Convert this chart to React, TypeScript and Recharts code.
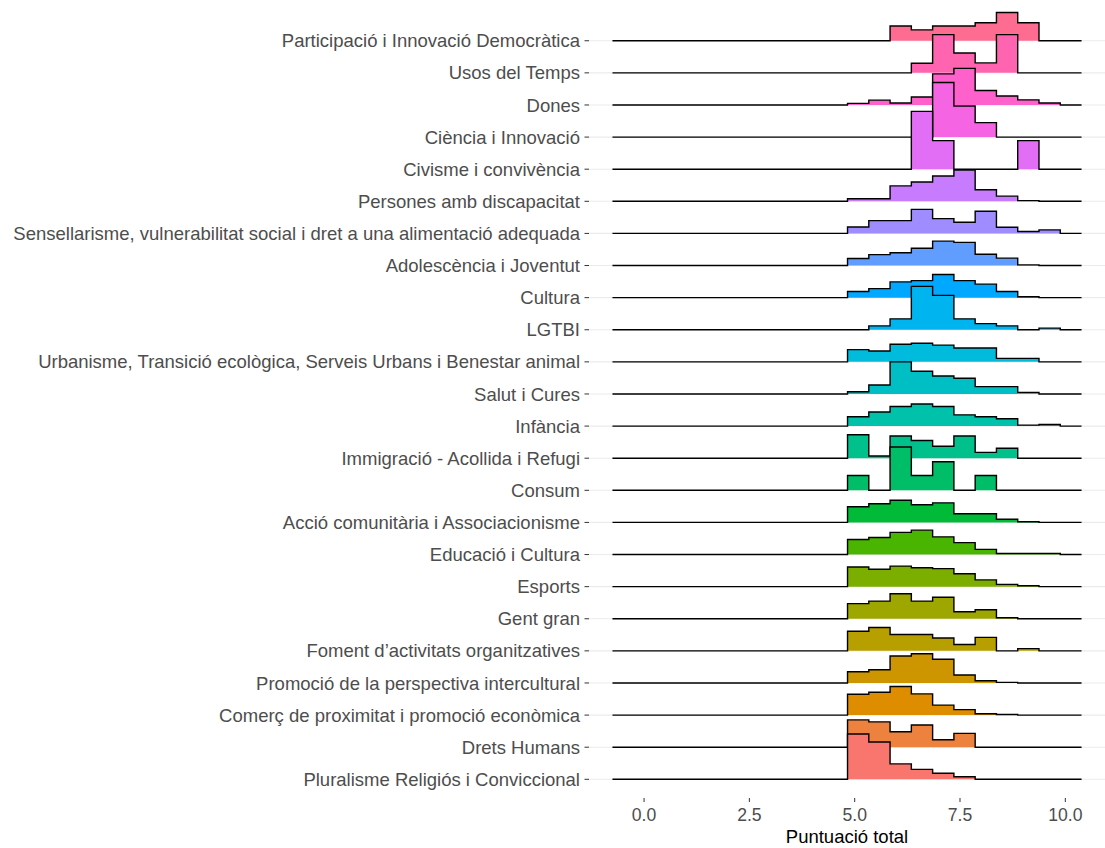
import React from 'react';
import { ComposedChart, Area, XAxis, YAxis, CartesianGrid, Label } from 'recharts';

// categories, top row first
const categories = [
  'Participació i Innovació Democràtica',
  'Usos del Temps',
  'Dones',
  'Ciència i Innovació',
  'Civisme i convivència',
  'Persones amb discapacitat',
  'Sensellarisme, vulnerabilitat social i dret a una alimentació adequada',
  'Adolescència i Joventut',
  'Cultura',
  'LGTBI',
  'Urbanisme, Transició ecològica, Serveis Urbans i Benestar animal',
  'Salut i Cures',
  'Infància',
  'Immigració - Acollida i Refugi',
  'Consum',
  'Acció comunitària i Associacionisme',
  'Educació i Cultura',
  'Esports',
  'Gent gran',
  "Foment d’activitats organitzatives",
  'Promoció de la perspectiva intercultural',
  'Comerç de proximitat i promoció econòmica',
  'Drets Humans',
  'Pluralisme Religiós i Conviccional',
];

// ridge line start and bin edges (Puntuació total)
const lineStart = -0.75;
const binEdges = [4.83, 5.335, 5.84, 6.345, 6.85, 7.355, 7.86, 8.365, 8.87, 9.375, 9.88, 10.385];
const xTicks = [0, 2.5, 5, 7.5, 10];

// bin heights per category (in ridge-row units), same order as categories
const participacio = [0, 0, 0.46, 0.34, 0.46, 0.46, 0.56, 0.88, 0.56, 0, 0];
const usosTemps = [0, 0, 0, 0.3, 1.19, 0.62, 0.31, 1.19, 0, 0, 0];
const dones = [0.05, 0.15, 0.06, 0.25, 0.97, 1.14, 0.45, 0.28, 0.16, 0.06, 0];
const ciencia = [0, 0, 0, 0, 1.7, 0.97, 0.45, 0, 0, 0, 0];
const civisme = [0, 0, 0, 1.8, 0.89, 0, 0, 0, 0.89, 0, 0];
const discapacitat = [0.08, 0.08, 0.48, 0.6, 0.79, 0.97, 0.36, 0.16, 0.02, 0, 0];
const sensellarisme = [0.2, 0.4, 0.4, 0.75, 0.46, 0.35, 0.69, 0.19, 0.06, 0.11, 0];
const adolescencia = [0.22, 0.34, 0.4, 0.54, 0.76, 0.72, 0.35, 0.23, 0.02, 0, 0];
const cultura = [0.19, 0.28, 0.49, 0.53, 0.72, 0.53, 0.42, 0.19, 0.03, 0, 0];
const lgtbi = [0, 0.12, 0.34, 1.35, 1.07, 0.34, 0.19, 0.12, 0, 0.05, 0];
const urbanisme = [0.38, 0.34, 0.55, 0.58, 0.52, 0.43, 0.43, 0.11, 0.11, 0, 0];
const salut = [0.07, 0.28, 1.0, 0.71, 0.56, 0.49, 0.23, 0.23, 0.05, 0, 0];
const infancia = [0.29, 0.44, 0.61, 0.69, 0.61, 0.35, 0.29, 0.23, 0.03, 0.05, 0];
const immigracio = [0.73, 0.07, 0.69, 0.55, 0.37, 0.69, 0.18, 0.31, 0, 0, 0];
const consum = [0.46, 0, 1.35, 0.46, 0.89, 0, 0.46, 0, 0, 0, 0];
const accio = [0.49, 0.58, 0.69, 0.55, 0.61, 0.27, 0.27, 0.1, 0.02, 0, 0];
const educacio = [0.47, 0.53, 0.69, 0.76, 0.55, 0.37, 0.16, 0.03, 0.03, 0.03, 0];
const esports = [0.61, 0.54, 0.64, 0.59, 0.56, 0.4, 0.21, 0.07, 0.03, 0, 0];
const gentGran = [0.47, 0.55, 0.78, 0.55, 0.67, 0.22, 0.28, 0.03, 0, 0, 0];
const foment = [0.61, 0.73, 0.51, 0.51, 0.4, 0.2, 0.42, 0, 0.07, 0, 0];
const promocio = [0.35, 0.41, 0.84, 0.91, 0.74, 0.25, 0.07, 0.02, 0, 0, 0];
const comerc = [0.65, 0.71, 0.89, 0.66, 0.31, 0.17, 0.04, 0.02, 0, 0, 0];
const dretsHumans = [0.85, 0.79, 0.48, 0.69, 0.23, 0.43, 0, 0, 0, 0, 0];
const pluralisme = [1.41, 1.16, 0.48, 0.31, 0.19, 0.08, 0, 0, 0, 0, 0];

const heights = [
  participacio, usosTemps, dones, ciencia, civisme, discapacitat, sensellarisme,
  adolescencia, cultura, lgtbi, urbanisme, salut, infancia, immigracio, consum,
  accio, educacio, esports, gentGran, foment, promocio, comerc, dretsHumans, pluralisme,
];

// ggplot hue palette (grDevices::hcl, c=100, l=65)
function hcl(h: number, c = 100, l = 65) {
  const WY = 100, Wu = 0.1978398, Wv = 0.4683363;
  const hr = (h * Math.PI) / 180;
  const U = c * Math.cos(hr), V = c * Math.sin(hr);
  const Y = WY * (l > 7.999592 ? Math.pow((l + 16) / 116, 3) : l / 903.3);
  const u = U / (13 * l) + Wu;
  const v = V / (13 * l) + Wv;
  const X = (9 * Y * u) / (4 * v);
  const Z = -X / 3 - 5 * Y + (3 * Y) / v;
  const g = (t: number) => (t > 0.00304 ? 1.055 * Math.pow(t, 1 / 2.4) - 0.055 : 12.92 * t);
  const ch = (t: number) => {
    const x = Math.round(Math.min(1, Math.max(0, g(t))) * 255);
    return x.toString(16).padStart(2, '0');
  };
  const r = (3.240479 * X - 1.53715 * Y - 0.498535 * Z) / WY;
  const gg = (-0.969256 * X + 1.875992 * Y + 0.041556 * Z) / WY;
  const b = (0.055648 * X - 0.204043 * Y + 1.057311 * Z) / WY;
  return '#' + ch(r) + ch(gg) + ch(b);
}

const n = categories.length;
// level 1 is the bottom row
const levelOf = (row: number) => n - 1 - row;
const colors = categories.map((_, row) => hcl(15 + 15 * levelOf(row)));

const xs = [lineStart, ...binEdges];
const data = xs.map((x, j) => {
  const d: Record<string, number> = { x };
  categories.forEach((_, row) => {
    const h = j === 0 || j === xs.length - 1 ? 0 : heights[row][j - 1];
    d['r' + row] = levelOf(row) + h;
  });
  return d;
});

const font = '"Liberation Sans", Arial, sans-serif';
const yTicks = categories.map((_, row) => levelOf(row));

export default function App() {
  return (
    <div style={{ position: 'absolute', left: 0, top: 0, width: 1105, height: 848, background: '#fff' }}>
      <ComposedChart width={1105} height={848} data={data} margin={{ top: 8, right: 0, bottom: 0, left: 0 }}>
        <CartesianGrid vertical={false} syncWithTicks stroke="#EBEBEB" strokeWidth={1.1} />
        <XAxis
          type="number"
          dataKey="x"
          domain={[-1.307, 10.942]}
          allowDataOverflow
          ticks={xTicks}
          tickFormatter={(v: number) => v.toFixed(1)}
          height={50}
          axisLine={false}
          tickSize={4}
          tickMargin={7}
          tickLine={{ stroke: '#333333' }}
          tick={{ fill: '#4D4D4D', fontSize: 17.6, fontFamily: font }}
        >
          <Label value="Puntuació total" position="insideBottom" offset={5} fill="#000" fontSize={18.5} fontFamily={font} />
        </XAxis>
        <YAxis
          type="number"
          domain={[-0.582, 24.02]}
          allowDataOverflow
          ticks={yTicks}
          interval={0}
          tickFormatter={(v: number) => categories[n - 1 - v]}
          width={589}
          axisLine={false}
          tickSize={4.5}
          tickMargin={4.5}
          tickLine={{ stroke: '#333333' }}
          tick={{ fill: '#4D4D4D', fontSize: 18.5, fontFamily: font }}
        />
        {categories.map((c, row) => (
          <Area
            key={c}
            type="stepAfter"
            dataKey={'r' + row}
            baseValue={levelOf(row)}
            fill={colors[row]}
            fillOpacity={1}
            stroke="#000"
            strokeWidth={1.4}
            dot={false}
            activeDot={false}
            isAnimationActive={false}
          />
        ))}
      </ComposedChart>
    </div>
  );
}
